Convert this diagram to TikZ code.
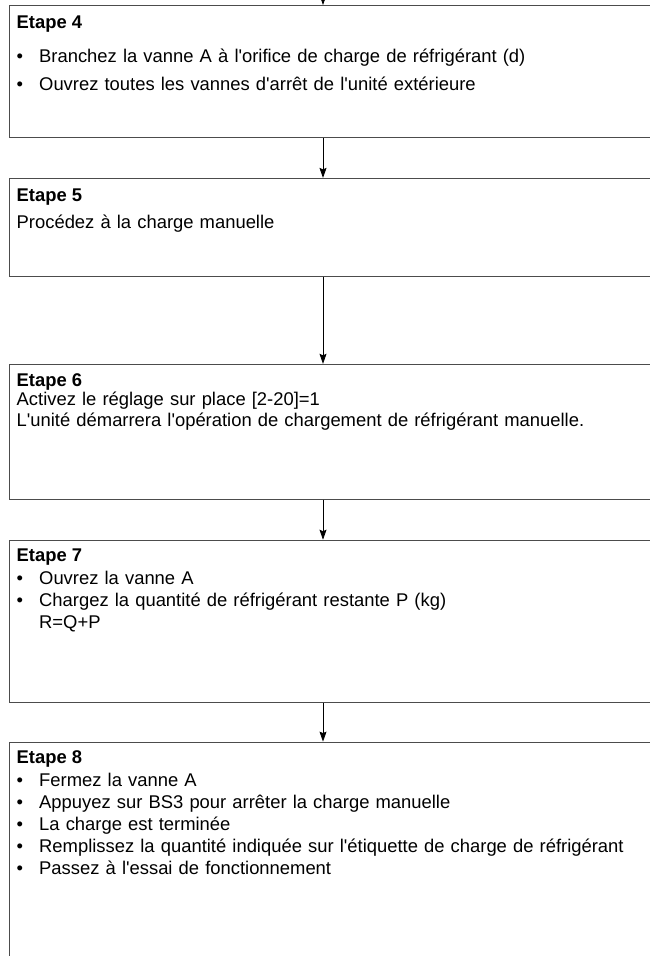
\documentclass[tikz,border=0pt]{standalone}
\usepackage{fontspec}
\setmainfont{Liberation Sans}[Ligatures=TeXOff]
\usetikzlibrary{arrows.meta, positioning}

\newcommand{\puce}{\makebox[22.5pt][l]{•}}

\begin{document}
\begin{tikzpicture}[
    x=1pt, y=1pt,
    >={Stealth[length=10pt, width=7pt, inset=1.5pt]},
    stepbox/.style={draw=black!70, line width=0.9pt, minimum width=660pt, minimum height=#1, inner sep=0pt},
    stepbox/.default=100pt,
    titre/.style={anchor=base west, inner sep=0pt, font=\fontsize{18.4}{22}\selectfont\bfseries},
    corps/.style={anchor=base west, inner sep=0pt, text width=620pt, align=left, font=\fontsize{18.4}{#1}\selectfont},
    corps/.default=22pt,
    fleche/.style={->, line width=0.8pt},
  ]

  \useasboundingbox (0,0) rectangle (650,-956);
  \clip (0,0) rectangle (650,-956);

  % --- Step boxes ---
  \node[stepbox=132pt, anchor=north west] (etape4) at (9,-5) {};
  \node[stepbox=98pt, below=40pt of etape4] (etape5) {};
  \node[stepbox=135pt, below=87pt of etape5] (etape6) {};
  \node[stepbox=162pt, below=40pt of etape6] (etape7) {};
  \node[stepbox=240pt, below=39pt of etape7] (etape8) {};

  % --- Step 4 ---
  \node[titre] (t4) at ([shift={(7.5,-23)}]etape4.north west) {Etape 4};
  \node[corps=28pt] (c4) at ([shift={(7.5,-57)}]etape4.north west)
    {\puce Branchez la vanne A à l'orifice de charge de réfrigérant (d)\\
     \puce Ouvrez toutes les vannes d'arrêt de l'unité extérieure};

  % --- Step 5 ---
  \node[titre] (t5) at ([shift={(7.5,-24)}]etape5.north west) {Etape 5};
  \node[corps] (c5) at ([shift={(7.5,-51)}]etape5.north west) {Procédez à la charge manuelle};

  % --- Step 6 ---
  \node[titre] (t6) at ([shift={(7.5,-23)}]etape6.north west) {Etape 6};
  \node[corps=21pt] (c6) at ([shift={(7.5,-42)}]etape6.north west)
    {Activez le réglage sur place [2-20]=1\\
     L'unité démarrera l'opération de chargement de réfrigérant manuelle.};

  % --- Step 7 ---
  \node[titre] (t7) at ([shift={(7.5,-22)}]etape7.north west) {Etape 7};
  \node[corps] (c7) at ([shift={(7.5,-45)}]etape7.north west)
    {\puce Ouvrez la vanne A\\
     \puce Chargez la quantité de réfrigérant restante P (kg)\\
     \hspace*{22.5pt}R=Q+P};

  % --- Step 8 ---
  \node[titre] (t8) at ([shift={(7.5,-22)}]etape8.north west) {Etape 8};
  \node[corps] (c8) at ([shift={(7.5,-45)}]etape8.north west)
    {\puce Fermez la vanne A\\
     \puce Appuyez sur BS3 pour arrêter la charge manuelle\\
     \puce La charge est terminée\\
     \puce Remplissez la quantité indiquée sur l'étiquette de charge de réfrigérant\\
     \puce Passez à l'essai de fonctionnement};

  % --- Arrows ---
  \coordinate (entree) at (323,15);
  \draw[fleche] (entree) -- (entree |- etape4.north);
  \draw[fleche] (entree |- etape4.south) -- (entree |- etape5.north);
  \draw[fleche] (entree |- etape5.south) -- (entree |- etape6.north);
  \draw[fleche] (entree |- etape6.south) -- (entree |- etape7.north);
  \draw[fleche] (entree |- etape7.south) -- (entree |- etape8.north);

\end{tikzpicture}
\end{document}
